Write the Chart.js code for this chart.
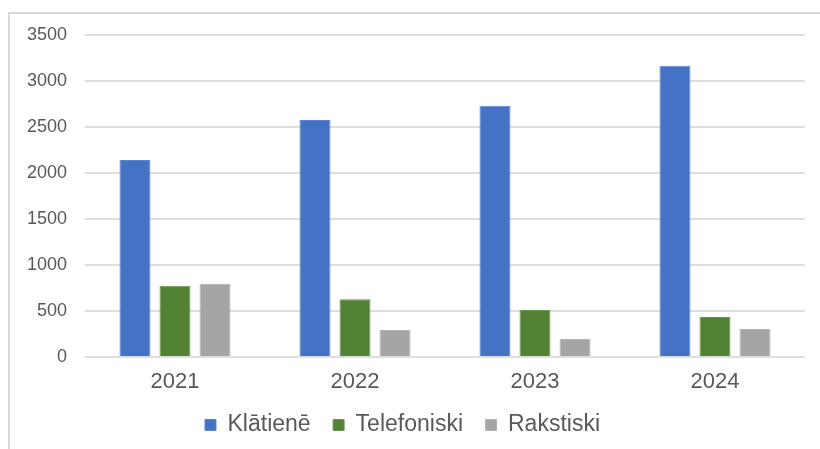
<!DOCTYPE html>
<html>
<head>
<meta charset="utf-8">
<script src="https://cdn.jsdelivr.net/npm/chart.js@4/dist/chart.umd.min.js"></script>
<style>
  html, body { margin: 0; padding: 0; background: #ffffff; }
  #wrap { position: relative; width: 820px; height: 449px; }
</style>
</head>
<body>
<div id="wrap"><canvas id="c" width="820" height="449"></canvas></div>
<script>
const categories = ['2021', '2022', '2023', '2024'];
const seriesNames = ['Klātienē', 'Telefoniski', 'Rakstiski'];
const klatiene = [2140, 2575, 2730, 3165];
const telefoniski = [775, 627, 510, 435];
const rakstiski = [797, 293, 196, 304];
const yTicks = [0, 500, 1000, 1500, 2000, 2500, 3000, 3500];

const textColor = '#595959';
const fontFamily = '"Liberation Sans", Arial, sans-serif';

const frame = {
  id: 'frame',
  beforeDraw(chart) {
    const ctx = chart.ctx;
    ctx.save();
    ctx.fillStyle = '#ffffff';
    ctx.fillRect(0, 0, chart.width, chart.height);
    ctx.strokeStyle = '#d9d9d9';
    ctx.lineWidth = 2;
    ctx.beginPath();
    ctx.moveTo(9, chart.height + 5);
    ctx.lineTo(9, 13);
    ctx.lineTo(chart.width + 5, 13);
    ctx.stroke();
    ctx.restore();
  }
};

new Chart(document.getElementById('c'), {
  type: 'bar',
  data: {
    labels: categories,
    datasets: [
      { label: seriesNames[0], data: klatiene, backgroundColor: '#4472C4', borderColor: '#5b85d0', borderWidth: 1 },
      { label: seriesNames[1], data: telefoniski, backgroundColor: '#548235', borderColor: '#6a9450', borderWidth: 1 },
      { label: seriesNames[2], data: rakstiski, backgroundColor: '#A5A5A5', borderColor: '#b3b3b3', borderWidth: 1 }
    ]
  },
  options: {
    responsive: false,
    animation: false,
    devicePixelRatio: 1,
    categoryPercentage: 0.667,
    barPercentage: 0.775,
    layout: { padding: { left: 0, right: 15, top: 35, bottom: 2.5 } },
    plugins: {
      legend: {
        position: 'bottom',
        labels: {
          boxWidth: 11,
          boxHeight: 11,
          padding: 22.5,
          color: textColor,
          font: { family: fontFamily, size: 23 }
        }
      },
      tooltip: { enabled: false }
    },
    scales: {
      x: {
        grid: { display: false, drawTicks: false },
        border: { display: false },
        ticks: { color: textColor, padding: 14, font: { family: fontFamily, size: 22, lineHeight: 1 } },
        afterFit(scale) { scale.height = 34; }
      },
      y: {
        min: 0,
        max: 3500,
        afterBuildTicks(scale) { scale.ticks = yTicks.map(v => ({ value: v })); },
        grid: { color: '#dedede', lineWidth: 2, drawTicks: false },
        border: { display: false },
        ticks: {
          color: textColor, padding: 18, font: { family: fontFamily, size: 18 },
          callback: (v) => String(v)
        },
        afterFit(scale) { scale.width = 85; }
      }
    }
  },
  plugins: [frame]
});
</script>
</body>
</html>
